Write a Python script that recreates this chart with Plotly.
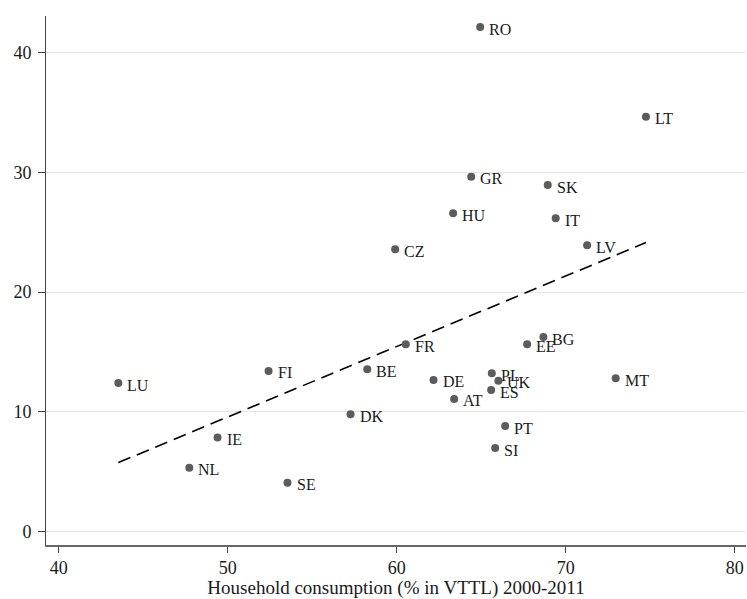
import numpy as np
import plotly.graph_objects as go

countries = ["RO", "LT", "GR", "SK", "HU", "IT", "CZ", "LV", "LU", "FI", "BE", "DK",
             "IE", "NL", "SE", "FR", "EE", "BG", "DE", "PL", "UK", "ES", "AT", "MT",
             "PT", "SI"]
consumption = [64.94, 74.75, 64.41, 68.94, 63.34, 69.41, 59.91, 71.27, 43.53, 52.42,
               58.26, 57.27, 49.40, 47.73, 53.54, 60.54, 67.72, 68.68, 62.18, 65.63,
               66.02, 65.59, 63.40, 72.96, 66.42, 65.83]
yvalue = [42.15, 34.65, 29.64, 28.94, 26.58, 26.16, 23.57, 23.90, 12.39, 13.40,
          13.54, 9.78, 7.85, 5.32, 4.06, 15.63, 15.63, 16.24, 12.65, 13.20,
          12.59, 11.81, 11.06, 12.79, 8.80, 6.96]
x_ticks = [40, 50, 60, 70, 80]
y_ticks = [0, 10, 20, 30, 40]
x_title = "Household consumption (% in VTTL) 2000-2011"

xa = np.array(consumption)
ya = np.array(yvalue)
slope, intercept = np.polyfit(xa, ya, 1)
fit_x = np.array([xa.min(), xa.max()])
fit_y = intercept + slope * fit_x

FONT = "Liberation Serif"

fig = go.Figure()
fig.add_trace(go.Scatter(
    x=fit_x, y=fit_y, mode="lines",
    line=dict(color="black", width=1.6, dash="13px,7px"),
    showlegend=False, hoverinfo="skip"))
fig.add_trace(go.Scatter(
    x=consumption, y=yvalue, mode="markers",
    marker=dict(size=8, color="#5c5c5c"),
    cliponaxis=False, showlegend=False, hoverinfo="skip"))

for c, x, y in zip(countries, consumption, yvalue):
    fig.add_annotation(x=x, y=y, text=c, showarrow=False, xanchor="left",
                       yanchor="middle", xshift=7, yshift=-2,
                       font=dict(family=FONT, size=16, color="#1a1a1a"))

fig.update_layout(
    width=747, height=599,
    margin=dict(l=46, r=1, t=16, b=54),
    plot_bgcolor="white", paper_bgcolor="white",
    font=dict(family=FONT, size=18, color="#1a1a1a"),
    xaxis=dict(range=[39.25, 80.67], tickvals=x_ticks, showgrid=False,
               zeroline=False, showline=True, linecolor="#666666", linewidth=1.5,
               ticks="outside", ticklen=6, tickcolor="#444444",
               tickfont=dict(family=FONT, size=18), automargin=False,
               title=dict(text=x_title, font=dict(family=FONT, size=19), standoff=0)),
    yaxis=dict(range=[-1.145, 43.07], tickvals=y_ticks, showgrid=True,
               gridcolor="#e6e6e6", gridwidth=1, automargin=False,
               zeroline=False, showline=True, linecolor="#444444", linewidth=1,
               ticks="outside", ticklen=7, tickcolor="#444444",
               ticklabelstandoff=3,
               tickfont=dict(family=FONT, size=18)),
)
fig.write_html("out.html", config={"displayModeBar": False},
               post_script="document.body.style.margin='0';document.body.style.overflow='hidden';")
